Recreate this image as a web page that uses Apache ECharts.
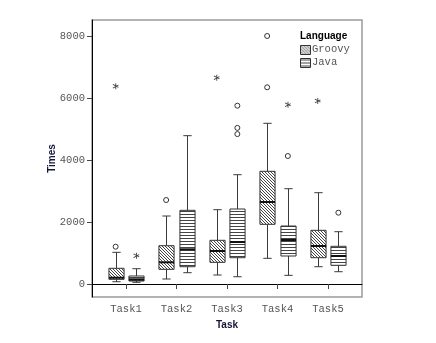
<!DOCTYPE html>
<html>
<head>
<meta charset="utf-8">
<script src="https://cdn.jsdelivr.net/npm/echarts@6/dist/echarts.min.js"></script>
<style>
  html, body { margin: 0; padding: 0; background: #fff; }
  #chart { width: 436px; height: 343px; }
</style>
</head>
<body>
<div id="chart"></div>
<script>
// Task categories along the x axis
var tasks = ['Task1', 'Task2', 'Task3', 'Task4', 'Task5'];
// y axis tick values
var yTicks = [0, 2000, 4000, 6000, 8000];

// Box statistics per task: [lower whisker, Q1, median, Q3, upper whisker]
var groovyBoxes = [
  [74, 152, 204, 508, 1025],
  [162, 475, 702, 1239, 2200],
  [291, 702, 1068, 1414, 2404],
  [831, 1931, 2653, 3646, 5199],
  [560, 851, 1229, 1737, 2954]
];
var javaBoxes = [
  [55, 97, 152, 259, 495],
  [366, 560, 1122, 2384, 4798],
  [236, 851, 1359, 2426, 3536],
  [281, 906, 1423, 1876, 3083],
  [398, 605, 906, 1220, 1692]
];

// Outliers (circles) and extreme values (stars): [task index, value]
var groovyOutliers = [[0, 1207], [1, 2717], [3, 8023], [3, 6363]];
var groovyExtremes = [[0, 6400], [2, 6674], [4, 5920]];
var javaOutliers = [[2, 5768], [2, 5050], [2, 4850], [3, 4140], [4, 2307]];
var javaExtremes = [[0, 916], [3, 5800]];

var OFFSET = 0.205;   // horizontal shift of each language from the task centre
var BOX_W = 0.3;      // box width in x-axis units

function makePattern(kind) {
  var c = document.createElement('canvas');
  var n = 3;
  c.width = n; c.height = n;
  var ctx = c.getContext('2d');
  ctx.fillStyle = '#ffffff';
  ctx.fillRect(0, 0, n, n);
  ctx.fillStyle = '#444444';
  if (kind === 'diag') {
    for (var i = 0; i < n; i++) ctx.fillRect(i, i, 1, 1);
  } else {
    ctx.fillRect(0, 1, n, 1);
  }
  return { image: c, repeat: 'repeat' };
}
var diagFill = makePattern('diag');
var horizFill = makePattern('horiz');

function boxRenderer(offset, fill) {
  return function (params, api) {
    var x = api.value(0) + 1 + offset;
    var lo = api.coord([x, api.value(1)]);
    var q1 = api.coord([x, api.value(2)]);
    var md = api.coord([x, api.value(3)]);
    var q3 = api.coord([x, api.value(4)]);
    var hi = api.coord([x, api.value(5)]);
    var w = api.size([BOX_W, 0])[0];
    var cap = w * 0.55;
    var cx = Math.round(q1[0]) + 0.5;
    var lineStyle = { stroke: '#3a3a3a', lineWidth: 1 };
    return {
      type: 'group',
      children: [
        { type: 'line', shape: { x1: cx, y1: q3[1], x2: cx, y2: hi[1] }, style: lineStyle },
        { type: 'line', shape: { x1: cx, y1: q1[1], x2: cx, y2: lo[1] }, style: lineStyle },
        { type: 'line', shape: { x1: cx - cap / 2, y1: hi[1], x2: cx + cap / 2, y2: hi[1] }, style: lineStyle },
        { type: 'line', shape: { x1: cx - cap / 2, y1: lo[1], x2: cx + cap / 2, y2: lo[1] }, style: lineStyle },
        { type: 'rect', shape: { x: cx - w / 2, y: q3[1], width: w, height: q1[1] - q3[1] },
          style: { fill: fill, stroke: '#333333', lineWidth: 1 } },
        { type: 'line', shape: { x1: cx - w / 2, y1: md[1], x2: cx + w / 2, y2: md[1] },
          style: { stroke: '#111111', lineWidth: 2 } }
      ]
    };
  };
}

function boxData(boxes) {
  return boxes.map(function (b, i) { return [i].concat(b); });
}
function pointData(points, offset) {
  return points.map(function (p) { return [p[0] + 1 + offset, p[1]]; });
}

var starPath = 'path://M4.3,0h1.4v10h-1.4z M0.1,2.5l0.7,-1.2l8.66,5l-0.7,1.2z M0.1,7.5l8.66,-5l0.7,1.2l-8.66,5z';

var chart = echarts.init(document.getElementById('chart'), null, { renderer: 'canvas' });

var monoLabel = { fontFamily: '"Liberation Mono", "DejaVu Sans Mono", monospace', fontSize: 10.5, color: '#555555' };
var titleFont = { fontFamily: '"Liberation Sans", Arial, sans-serif', fontSize: 10, fontWeight: 'bold', color: '#14143a' };
var circleStyle = { color: '#ffffff', borderColor: '#333333', borderWidth: 1, opacity: 1 };

chart.setOption({
  animation: false,
  grid: { left: 92, top: 20, width: 270, height: 277, show: true, borderColor: '#9a9a9a', borderWidth: 1.5, backgroundColor: 'transparent' },
  xAxis: {
    type: 'value', min: 0.327, max: 5.673,
    name: 'Task', nameLocation: 'middle', nameGap: 23, nameMoveOverlap: false, nameTextStyle: titleFont,
    axisLine: { show: true, lineStyle: { color: '#000', width: 1 } },
    axisTick: { show: true, length: 5, lineStyle: { color: '#444' }, customValues: [1, 2, 3, 4, 5] },
    axisLabel: Object.assign({ margin: 7, customValues: [1, 2, 3, 4, 5], formatter: function (v) { return tasks[Math.round(v) - 1]; } }, monoLabel),
    splitLine: { show: false }
  },
  yAxis: {
    type: 'value', min: -420, max: 8540,
    name: 'Times', nameLocation: 'middle', nameGap: 35, nameRotate: 90, nameMoveOverlap: false, nameTextStyle: titleFont,
    axisLine: { show: true, lineStyle: { color: '#000', width: 1 } },
    axisTick: { show: true, length: 5, lineStyle: { color: '#444' }, customValues: yTicks },
    axisLabel: Object.assign({ margin: 7, customValues: yTicks, formatter: function (v) { return String(v); } }, monoLabel),
    splitLine: { show: false }
  },
  graphic: [
    { type: 'text', left: 300, top: 31, style: { text: 'Language', font: 'bold 10px "Liberation Sans", Arial, sans-serif', fill: '#000' } },
    { type: 'rect', left: 300, top: 45, shape: { width: 10, height: 9 }, style: { fill: diagFill, stroke: '#333', lineWidth: 1 } },
    { type: 'text', left: 312, top: 44, style: { text: 'Groovy', font: '10.5px "Liberation Mono", monospace', fill: '#555' } },
    { type: 'rect', left: 300, top: 58, shape: { width: 10, height: 9 }, style: { fill: horizFill, stroke: '#333', lineWidth: 1 } },
    { type: 'text', left: 312, top: 57, style: { text: 'Java', font: '10.5px "Liberation Mono", monospace', fill: '#555' } }
  ],
  series: [
    { name: 'Groovy', type: 'custom', renderItem: boxRenderer(-OFFSET, diagFill), data: boxData(groovyBoxes), encode: { x: 0, y: [1, 2, 3, 4, 5] }, z: 2 },
    { name: 'Java', type: 'custom', renderItem: boxRenderer(OFFSET, horizFill), data: boxData(javaBoxes), encode: { x: 0, y: [1, 2, 3, 4, 5] }, z: 2 },
    { type: 'scatter', data: pointData(groovyOutliers, -OFFSET), symbol: 'circle', symbolSize: 5, itemStyle: circleStyle, z: 3 },
    { type: 'scatter', data: pointData(javaOutliers, OFFSET), symbol: 'circle', symbolSize: 5, itemStyle: circleStyle, z: 3 },
    { type: 'scatter', data: pointData(groovyExtremes, -OFFSET), symbol: starPath, symbolSize: 6, itemStyle: { color: '#111' }, z: 3 },
    { type: 'scatter', data: pointData(javaExtremes, OFFSET), symbol: starPath, symbolSize: 6, itemStyle: { color: '#111' }, z: 3 }
  ]
});
</script>
</body>
</html>
